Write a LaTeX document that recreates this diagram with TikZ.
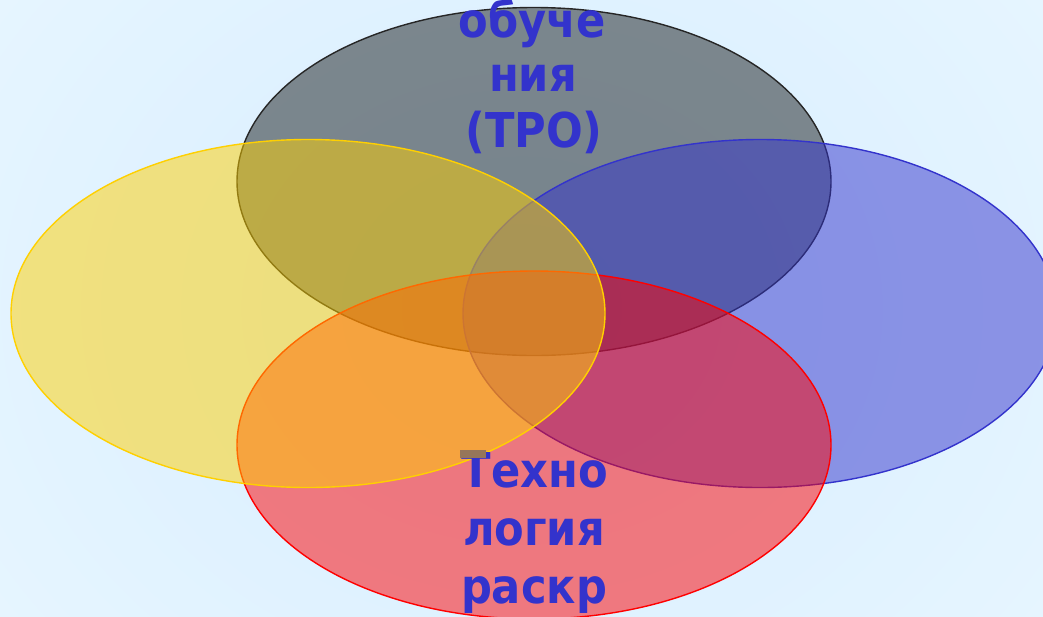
\documentclass[tikz,border=0pt]{standalone}
\usepackage{fontspec}
\usetikzlibrary{shapes.geometric}
\newfontfamily\lblfont[FakeStretch=0.9]{DejaVu Sans}
\definecolor{bgA}{RGB}{232,246,255}
\definecolor{bgB}{RGB}{214,237,255}
\definecolor{grayfill}{RGB}{24,28,29}
\definecolor{yellowfill}{RGB}{255,208,0}
\definecolor{bluefill}{RGB}{51,51,204}
\definecolor{redfill}{RGB}{255,0,0}
\definecolor{txtblue}{RGB}{51,51,204}
\definecolor{markcol}{RGB}{150,118,90}
\begin{document}
\begin{tikzpicture}[x=1pt,y=-1pt,
  petal/.style={ellipse, minimum width=594pt, minimum height=348pt, inner sep=0pt,
    line width=1.4pt, fill opacity=0.5, draw opacity=1},
  lbl/.style={font=\lblfont\bfseries\fontsize{48}{56}\selectfont, text=txtblue,
    inner sep=0pt, anchor=base}]
\path[use as bounding box] (0,0) rectangle (1043,616);
\clip (0,0) rectangle (1043,616);
\shade[inner color=bgB, outer color=bgA] (-200,-300) rectangle (1243,916);
\node[petal, fill=grayfill, draw=black!85] (top) at (534,181.5) {};
\node[petal, fill=bluefill, draw=bluefill] (right) at (760,313.5) {};
\node[petal, fill=redfill, draw=redfill] (bottom) at (534,445) {};
\node[petal, fill=yellowfill, draw=yellowfill] (left) at (308,313.5) {};
\node[lbl] (t1) at (532,37) {обуче};
\node[lbl] (t2) at (533,91) {ния};
\node[lbl] (t3) at (534,147) {(ТРО)};
\node[lbl] (b1) at (535,487) {Техно};
\node[lbl] (b2) at (534,545) {логия};
\node[lbl] (b3) at (534,603) {раскр};
\fill[markcol] (460,450) rectangle (486,458);
\end{tikzpicture}
\end{document}
